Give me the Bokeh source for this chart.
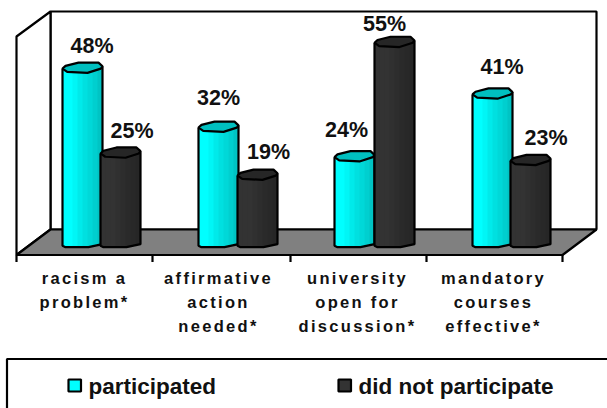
import numpy as np
from bokeh.core.properties import value
from bokeh.embed import file_html
from bokeh.layouts import column
from bokeh.models import Range1d
from bokeh.plotting import figure
from bokeh.resources import INLINE

# Survey results, percent of respondents answering yes
categories = ["racism a\nproblem*", "affirmative\naction\nneeded*",
              "university\nopen for\ndiscussion*", "mandatory\ncourses\neffective*"]
participated = [48, 32, 24, 41]
did_not_participate = [25, 19, 55, 23]
series_names = ["participated", "did not participate"]

FONT = value("Liberation Sans")
W = 607
CHART_H, LABEL_H, LEGEND_H = 262, 84, 62

# Vertical scale of the chart: pixel row of zero and pixels per percent
Y0, K = 245.2, 3.69


def v(py):
    """Pixel row in the chart panel expressed in percent units."""
    return (Y0 - py) / K


def make_fig(height, y_range, **kw):
    f = figure(width=W, height=height, x_range=Range1d(0, W), y_range=y_range,
               output_backend="svg", toolbar_location=None, min_border=0,
               outline_line_color=None, background_fill_color="white",
               border_fill_color="white", **kw)
    f.axis.visible = False
    f.grid.visible = False
    return f


p = make_fig(CHART_H, Range1d(v(CHART_H), v(0)))

# Box walls and floor
BACK_L, BACK_R, FRONT_L, FRONT_R = 50, 596, 16, 562
TOP_BACK, FLOOR_BACK, FLOOR_FRONT = 11, 229, 254.5
LW = 2.2
p.patch([BACK_L, BACK_R, BACK_R, BACK_L],
        [v(TOP_BACK), v(TOP_BACK), v(FLOOR_BACK), v(FLOOR_BACK)],
        fill_color="white", line_color="black", line_width=LW)
p.patch([FRONT_L, BACK_L, BACK_L, FRONT_L],
        [v(36), v(TOP_BACK), v(FLOOR_BACK), v(FLOOR_FRONT)],
        fill_color="white", line_color="black", line_width=LW)
p.patch([FRONT_L, BACK_L, BACK_R, FRONT_R],
        [v(FLOOR_FRONT), v(FLOOR_BACK), v(FLOOR_BACK), v(FLOOR_FRONT)],
        fill_color="#808080", line_color="black", line_width=LW)

# Category boundary ticks under the floor
tick_x = [16, 152, 290, 426, 562]
p.segment(tick_x, [v(FLOOR_FRONT)] * 5, tick_x, [v(261.5)] * 5, line_color="black", line_width=LW)

# Cylinder outline, in pixels relative to the bar's left edge
BAR_W = 40
CAP_UP = [(0, 0), (3, -2.7), (16, -6), (36, -6), (40, -2.3)]
CAP_LOW = [(40, -2.3), (38.3, 0), (25, 4.3), (4.7, 3.3), (0, 0)]
BASE = [(0, -1.5), (3, 0), (26, 0), (40, -3)]
BASE_ROW = 246.7

CYAN_RAMP = ["#00ffff", "#00ffff", "#00f6f6", "#00eaea", "#00e0e0", "#00d8d8", "#00cfcf", "#00c4c4"]
DARK_RAMP = ["#333333", "#333333", "#333333", "#303030", "#2d2d2d", "#2a2a2a", "#282828", "#262626"]


def draw_bar(left, val, ramp, cap_color):
    top = Y0 - val * K
    n = len(ramp)
    edges = np.linspace(0, BAR_W, n + 1)
    bx, by = zip(*BASE)
    xs, ys = [], []
    # each band runs to the right edge and the next one paints over it, leaving no seams
    for i in range(n):
        a = edges[i]
        tail = [e for e in edges[i:]]
        xs.append([left + a, left + BAR_W] + [left + e for e in reversed(tail)])
        ys.append([v(top), v(top)] + [v(BASE_ROW + np.interp(e, bx, by)) for e in reversed(tail)])
    p.patches(xs, ys, fill_color=ramp, line_color=None)
    # body outline
    ox = [left, left] + [left + x for x, _ in BASE] + [left + BAR_W, left + BAR_W]
    oy = [v(top), v(BASE_ROW - 1.5)] + [v(BASE_ROW + y) for _, y in BASE] + [v(BASE_ROW - 3), v(top - 2.3)]
    p.line(ox, oy, line_color="black", line_width=LW)
    # top cap
    cap = CAP_UP + CAP_LOW[1:]
    p.patch([left + x for x, _ in cap], [v(top + y) for _, y in cap],
            fill_color=cap_color, line_color="black", line_width=LW)


cyan_left = [62, 198, 334, 472]
dark_left = [100, 237, 374, 510]
for i in range(4):
    draw_bar(cyan_left[i], participated[i], CYAN_RAMP, "#00bfbf")
    draw_bar(dark_left[i], did_not_participate[i], DARK_RAMP, "#262626")

# Value labels, nudged sideways so they clear the neighbouring bar
cyan_label_x = [91.5, 218, 346, 501.5]
dark_label_x = [131.5, 268, 384, 545.5]
cyan_label_rise = [23, 30, 27.5, 27]
dark_label_rise = [22, 24, 19, 23]
lx, ly, lt = [], [], []
for vals, xs_, rise in ((participated, cyan_label_x, cyan_label_rise),
                        (did_not_participate, dark_label_x, dark_label_rise)):
    for val, x, r in zip(vals, xs_, rise):
        lx.append(x)
        ly.append(val + r / K)
        lt.append(f"{val}%")
p.text(lx, ly, lt, text_font=FONT, text_font_style="bold", text_font_size="21.5px",
       text_align="center", text_baseline="middle", text_color="#111111")

# Category labels sit in their own panel because they are letter-spaced
SPACING = 2.3
q = make_fig(LABEL_H, Range1d(CHART_H + LABEL_H, CHART_H),
             styles={"letter-spacing": f"{SPACING}px"})
label_x = [84, 218, 357, 493]
for x, lab in zip(label_x, categories):
    for j, line in enumerate(lab.split("\n")):
        # the renderer centres on the unspaced width, so pull back half of the added spacing
        q.text([x - len(line) * SPACING / 2], [277.5 + 24 * j], [line], text_font=FONT,
               text_font_style="bold", text_font_size="16.5px", text_align="center",
               text_baseline="middle", text_color="#111111")

# Legend panel: the frame runs off the right and bottom of the page
TOP = CHART_H + LABEL_H
r = make_fig(LEGEND_H, Range1d(TOP + LEGEND_H, TOP))
r.line([6.5, 6.5, W + 5], [TOP + LEGEND_H + 5, 358.5, 358.5], line_color="black", line_width=LW)
for x0, col, name, tx in zip([68, 338], ["#00ffff", "#333333"], series_names, [88, 358]):
    r.quad(left=[x0], right=[x0 + 12.5], top=[379], bottom=[391], fill_color=col,
           line_color="black", line_width=LW)
    r.text([tx], [385.5], [name], text_font=FONT, text_font_style="bold", text_font_size="22.5px",
           text_align="left", text_baseline="middle", text_color="#111111")

page = column(p, q, r, spacing=0)
open("out.html", "w").write(file_html(page, INLINE))
